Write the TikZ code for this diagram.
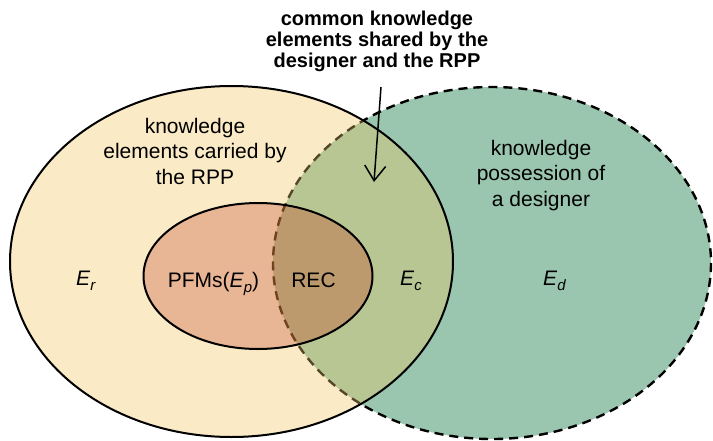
\documentclass[tikz,border=0pt]{standalone}
\usepackage{fontspec}
\setmainfont{Liberation Sans}
\usetikzlibrary{arrows.meta}
\definecolor{yel}{RGB}{251,234,198}
\definecolor{grn}{RGB}{154,197,174}
\definecolor{olv}{RGB}{184,198,147}
\definecolor{sal}{RGB}{232,181,149}
\definecolor{brn}{RGB}{188,154,110}
\definecolor{dashEr}{RGB}{85,70,40}
\definecolor{dashEp}{RGB}{112,66,32}
\newcommand\mysub[1]{\raisebox{-5pt}{\fontsize{15}{15}\selectfont\itshape #1}}
\begin{document}
\begin{tikzpicture}[x=1pt,y=-1pt,
  outline/.style={line width=2pt},
  dashline/.style={line width=2.4pt, dash pattern=on 9pt off 6pt},
  lbl/.style={inner sep=0pt, font=\fontsize{21}{25.5}\selectfont, align=center},
  ttl/.style={inner sep=0pt, font=\bfseries\fontsize{20}{21}\selectfont, align=center},
  pointer/.style={line width=1.5pt, -{Straight Barb[length=15pt,width=21pt]}}]
\useasboundingbox (0,0) rectangle (713,440);
% designer set (dashed)
\fill[grn] (492,263) ellipse [x radius=219, y radius=176];
\draw[dashline] (492,263) ellipse [x radius=219, y radius=176];
% RPP set
\fill[yel] (231.5,261.5) ellipse [x radius=221.5, y radius=175.5];
\begin{scope}
  \clip (231.5,261.5) ellipse [x radius=221.5, y radius=175.5];
  \fill[olv] (492,263) ellipse [x radius=219, y radius=176];
  \draw[dashline, dashEr] (492,263) ellipse [x radius=219, y radius=176];
\end{scope}
% PFMs set
\fill[sal] (258,276) ellipse [x radius=114.5, y radius=73];
\begin{scope}
  \clip (258,276) ellipse [x radius=114.5, y radius=73];
  \fill[brn] (492,263) ellipse [x radius=219, y radius=176];
  \draw[dashline, dashEp] (492,263) ellipse [x radius=219, y radius=176];
\end{scope}
\draw[outline] (231.5,261.5) ellipse [x radius=221.5, y radius=175.5];
\draw[outline] (258,276) ellipse [x radius=114.5, y radius=73];
% texts
\node[ttl, anchor=north] (common) at (377,10.7) {common knowledge\\elements shared by the\\designer and the RPP};
\node[lbl, anchor=north] (carried) at (195,118) {knowledge\\elements carried by\\the RPP};
\node[lbl, anchor=north] (possess) at (541,140) {knowledge\\possession of\\a designer};
\node[lbl, anchor=base west] (Er) at (76,285) {\textit{E}\mysub{r}};
\node[lbl, anchor=base] (pfm) at (213.5,287) {PFMs(\textit{E}\mysub{p})};
\node[lbl, anchor=base] (rec) at (313.5,287) {REC};
\node[lbl, anchor=base west] (Ec) at (400,285) {\textit{E}\mysub{c}};
\node[lbl, anchor=base west] (Edl) at (543,285) {\textit{E}\mysub{d}};
% arrow
\coordinate (arrA) at (381,87);
\coordinate (arrB) at (374,182);
\draw[pointer] (arrA) -- (arrB);
\end{tikzpicture}
\end{document}
